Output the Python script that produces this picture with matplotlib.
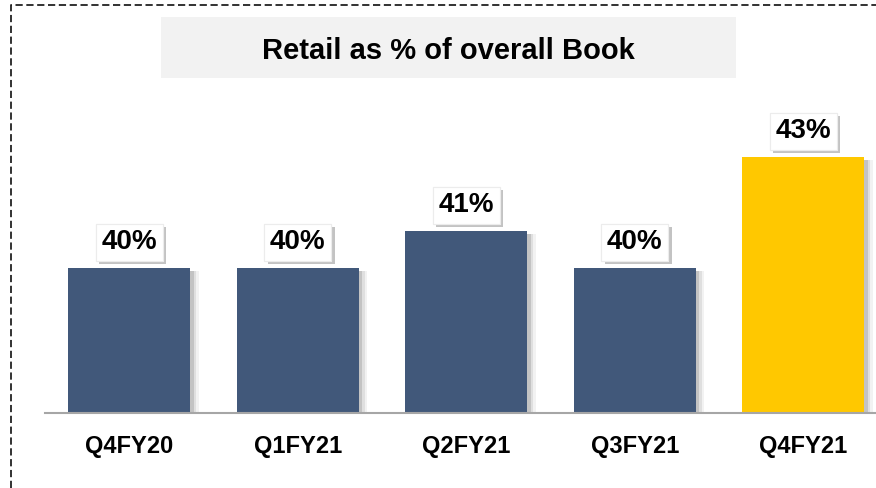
import matplotlib
matplotlib.use("Agg")
import matplotlib.pyplot as plt
import matplotlib.patheffects as pe
from matplotlib.patches import Rectangle
from matplotlib.lines import Line2D

plt.rcParams['font.family'] = ['Liberation Sans', 'DejaVu Sans']

# Data
quarters = ["Q4FY20", "Q1FY21", "Q2FY21", "Q3FY21", "Q4FY21"]
retail_share = [40, 40, 41, 40, 43]
bar_colors = ["#41587a", "#41587a", "#41587a", "#41587a", "#ffc800"]
title = "Retail as % of overall Book"

W, H = 876, 488
fig = plt.figure(figsize=(W / 100, H / 100), dpi=100)

# dashed frame (left and top visible)
fig.add_artist(Line2D([11 / W, 11 / W, 1.0], [0.0, 1 - 5 / H, 1 - 5 / H],
                      transform=fig.transFigure, color="#222222", lw=1.3,
                      linestyle=(0, (4, 2))))

# title box
fig.add_artist(Rectangle((161 / W, 1 - 78 / H), (736 - 161) / W, 61 / H,
                         transform=fig.transFigure, facecolor="#f2f2f2",
                         edgecolor="none"))
fig.text(448 / W, 1 - 51 / H, title, ha="center", va="center",
         fontsize=21, fontweight="bold", color="#000000")

# axes: baseline at y=413 px, 168.5 px per category
ax = fig.add_axes([45 / W, 1 - 413 / H, 842.5 / W, 408 / H])
ax.set_xlim(-0.5, 4.5)
ax.set_ylim(36.08, 36.08 + 408 / 37)

x = range(len(quarters))
# soft shadow behind bars
for k, a in [(0.05, 0.05), (0.035, 0.08), (0.02, 0.12)]:
    ax.bar([i + k for i in x], [v - 36.08 for v in retail_share], width=0.724,
           bottom=36.08 - 0.08, color="black", alpha=a, zorder=1)
ax.bar(x, [v - 36.08 for v in retail_share], width=0.724, bottom=36.08,
       color=bar_colors, zorder=2)

for i, v in zip(x, retail_share):
    t = ax.annotate(f"{v}%", (i, v), xytext=(0, 9), textcoords="offset points",
                    ha="center", va="bottom", fontsize=20, fontweight="bold",
                    bbox=dict(boxstyle="square,pad=0.2", facecolor="white",
                              edgecolor="#ececec", lw=0.8), zorder=5)
    t.get_bbox_patch().set_path_effects(
        [pe.withSimplePatchShadow(offset=(2.5, -2.5), shadow_rgbFace="#888888", alpha=0.5),
         pe.Normal()])

ax.set_xticks(list(x))
ax.set_xticklabels(quarters, fontsize=17, fontweight="bold")
ax.tick_params(axis="x", length=0, pad=16)
ax.set_yticks([])
for s in ["top", "right", "left"]:
    ax.spines[s].set_visible(False)
ax.spines["bottom"].set_color("#a6a6a6")
ax.spines["bottom"].set_linewidth(1.5)
ax.spines["bottom"].set_zorder(3)
ax.patch.set_alpha(0)

fig.savefig("out.png", dpi=100)
